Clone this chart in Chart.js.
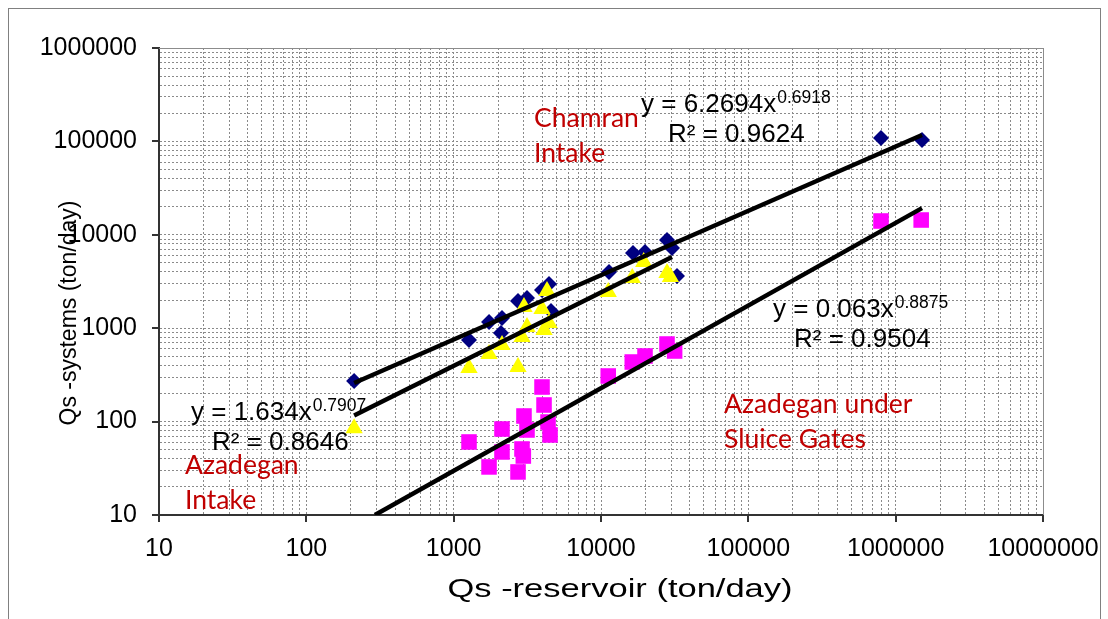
<!DOCTYPE html>
<html>
<head>
<meta charset="utf-8">
<script src="https://cdn.jsdelivr.net/npm/chart.js@4/dist/chart.umd.min.js"></script>
<style>
    html, body { margin: 0; padding: 0; background: #ffffff; }
    #wrap { width: 1108px; height: 619px; }
</style>
</head>
<body>
<div id="wrap"><canvas id="chart" width="1108" height="619"></canvas></div>
<script>
// ==========================================================
// DATA
// ==========================================================

// Chamran intake (navy diamonds)
const chamranX = [211, 1271, 1738, 2128, 2094, 2734, 3146, 3978, 4437, 4578,
    11334, 16495, 19893, 28054, 30340, 32810, 795500, 1509000];
const chamranY = [272, 747, 1165, 1285, 888, 1955, 2105, 2564, 2974, 1528,
    3998, 6386, 6545, 8797, 7223, 3622, 108700, 103500];

// Azadegan intake (yellow triangles)
const intakeX = [211, 1271, 1738, 2128, 2734, 2909, 3146, 3001, 3978, 4105,
    4437, 4300, 11200, 16300, 19500, 28054, 29600];
const intakeY = [85, 375, 529, 661, 384, 805, 1030, 1687, 1606, 956,
    1137, 2502, 2441, 3448, 5113, 3899, 3532];

// Azadegan under sluice gates (magenta squares)
const sluiceX = [1271, 1738, 2128, 2128, 2734, 2909, 2970, 3001, 3146, 3978,
    4105, 4370, 4510, 11200, 16300, 19893, 28054, 31600, 795500, 1490000];
const sluiceY = [60.5, 32.7, 83.3, 47.3, 28.9, 50.9, 42.8, 114.8, 81.3, 234.6,
    150.6, 99, 71.9, 307.7, 434.5, 504, 677, 570, 14050, 14400];

// power trend lines, end points as drawn
const chamranFitX = [211, 1509000];
const chamranFitY = [259, 117000];
const intakeFitX = [211, 30340];
const intakeFitY = [116, 5780];
const sluiceFitX = [292, 1509000];
const sluiceFitY = [10, 19300];

// tick labels
const xTickLabels = [10, 100, 1000, 10000, 100000, 1000000, 10000000];
const yTickLabels = [10, 100, 1000, 10000, 100000, 1000000];

// ==========================================================
// HELPERS
// ==========================================================

function toPoints(xs, ys) {
    return xs.map((x, i) => ({ x: x, y: ys[i] }));
}

// decade ticks plus 2..9 minor ticks, for the dashed grid
function logTicks(min, max) {
    const ticks = [];
    for (let p = min; p < max; p *= 10) {
        for (let m = 1; m < 10; m++) ticks.push(m * p);
    }
    ticks.push(max);
    return ticks.map(v => ({ value: v }));
}

const FONT = "'Liberation Sans', Arial, sans-serif";
const RED_FONT = "Lato, 'Open Sans', sans-serif";

function drawEquation(ctx, x, y, base, exp, r2x, r2) {
    ctx.fillStyle = "#000000";
    ctx.textAlign = "left";
    ctx.textBaseline = "alphabetic";
    ctx.font = "26px " + FONT;
    ctx.fillText(base, x, y);
    const w = ctx.measureText(base).width;
    ctx.font = "17.5px " + FONT;
    ctx.fillText(exp, x + w + 1, y - 9);
    ctx.font = "26px " + FONT;
    ctx.fillText(r2, r2x, y + 30);
}

function drawRed(ctx, lines, x, y) {
    ctx.fillStyle = "#c00000";
    ctx.textAlign = "left";
    ctx.textBaseline = "alphabetic";
    ctx.font = "26.5px " + RED_FONT;
    lines.forEach((t, i) => ctx.fillText(t, x, y + i * 35));
}

// ==========================================================
// DECORATION PLUGIN
// ==========================================================

const decorPlugin = {
    id: "decor",

    beforeDraw(chart) {
        const ctx = chart.ctx;
        ctx.save();
        ctx.fillStyle = "#ffffff";
        ctx.fillRect(0, 0, chart.width, chart.height);
        ctx.restore();
    },

    afterDraw(chart) {
        const { ctx, chartArea: a, scales } = chart;
        ctx.save();

        // outer frame
        ctx.strokeStyle = "#808080";
        ctx.lineWidth = 1;
        ctx.strokeRect(8.5, 8.5, 1092, 640);

        // plot area top / right edges
        ctx.strokeStyle = "#8c8c8c";
        ctx.beginPath();
        ctx.moveTo(a.left, a.top + 0.5);
        ctx.lineTo(a.right + 0.5, a.top + 0.5);
        ctx.lineTo(a.right + 0.5, a.bottom);
        ctx.stroke();

        // decade tick marks
        ctx.strokeStyle = "#333333";
        ctx.lineWidth = 2;
        ctx.beginPath();
        yTickLabels.forEach(v => {
            const py = Math.round(scales.y.getPixelForValue(v));
            ctx.moveTo(a.left - 7, py);
            ctx.lineTo(a.left, py);
        });
        xTickLabels.forEach(v => {
            const px = Math.round(scales.x.getPixelForValue(v));
            ctx.moveTo(px, a.bottom);
            ctx.lineTo(px, a.bottom + 7);
        });
        ctx.stroke();

        // axis titles
        ctx.fillStyle = "#000000";
        ctx.textAlign = "center";
        ctx.textBaseline = "middle";
        ctx.save();
        ctx.font = "25px " + FONT;
        ctx.translate(620, 590);
        ctx.scale(1.38, 1);
        ctx.fillText("Qs -reservoir (ton/day)", 0, 0);
        ctx.restore();
        ctx.save();
        ctx.font = "23px " + FONT;
        ctx.translate(70, 313);
        ctx.rotate(-Math.PI / 2);
        ctx.fillText("Qs -systems (ton/day)", 0, 0);
        ctx.restore();

        // trend equations
        drawEquation(ctx, 641, 112, "y = 6.2694x", "0.6918", 668, "R\u00b2 = 0.9624");
        drawEquation(ctx, 773, 317, "y = 0.063x", "0.8875", 794, "R\u00b2 = 0.9504");
        drawEquation(ctx, 191, 420, "y = 1.634x", "0.7907", 212, "R\u00b2 = 0.8646");

        // series labels
        drawRed(ctx, ["Chamran", "Intake"], 534, 127);
        drawRed(ctx, ["Azadegan", "Intake"], 185, 474);
        drawRed(ctx, ["Azadegan under", "Sluice Gates"], 724, 413);

        ctx.restore();
    }
};

// ==========================================================
// CHART
// ==========================================================

const gridOpts = {
    color: "#8a8a8a",
    lineWidth: 1,
    drawTicks: false
};

const borderOpts = {
    display: true,
    color: "#333333",
    width: 2,
    dash: [2, 2]
};

const trendStyle = {
    showLine: true,
    borderColor: "#000000",
    borderWidth: 4.5,
    pointRadius: 0,
    fill: false,
    order: 0
};

new Chart(document.getElementById("chart"), {

    type: "scatter",

    data: {
        datasets: [
            Object.assign({ label: "Chamran fit", data: toPoints(chamranFitX, chamranFitY) }, trendStyle),
            Object.assign({ label: "Intake fit", data: toPoints(intakeFitX, intakeFitY) }, trendStyle),
            Object.assign({ label: "Sluice fit", data: toPoints(sluiceFitX, sluiceFitY) }, trendStyle),
            {
                label: "Azadegan under Sluice Gates",
                data: toPoints(sluiceX, sluiceY),
                pointStyle: "rect",
                pointRadius: 11,
                backgroundColor: "#ff00ff",
                borderColor: "#ff00ff",
                borderWidth: 0,
                order: 1
            },
            {
                label: "Azadegan Intake",
                data: toPoints(intakeX, intakeY),
                pointStyle: "triangle",
                pointRadius: 10,
                backgroundColor: "#ffff00",
                borderColor: "#ffff00",
                borderWidth: 0,
                order: 2
            },
            {
                label: "Chamran Intake",
                data: toPoints(chamranX, chamranY),
                pointStyle: "rectRot",
                pointRadius: 8,
                backgroundColor: "#000080",
                borderColor: "#000080",
                borderWidth: 0,
                order: 3
            }
        ]
    },

    options: {
        responsive: false,
        animation: false,
        devicePixelRatio: 1,
        layout: {
            padding: { left: 0, top: 48, right: 65, bottom: 0 }
        },
        plugins: {
            legend: { display: false },
            tooltip: { enabled: false }
        },
        scales: {
            x: {
                type: "logarithmic",
                min: 10,
                max: 10000000,
                grid: gridOpts,
                border: borderOpts,
                afterBuildTicks: s => { s.ticks = logTicks(10, 10000000); },
                afterFit: s => {
                    s.height = 104;
                    // keep label overflow out of the layout; padding is fixed above
                    s.paddingLeft = 0;
                    s.paddingRight = 0;
                },
                ticks: {
                    autoSkip: false,
                    maxRotation: 0,
                    minRotation: 0,
                    padding: 19,
                    color: "#000000",
                    font: { family: FONT, size: 25 },
                    callback: v => xTickLabels.includes(v) ? String(v) : ""
                }
            },
            y: {
                type: "logarithmic",
                min: 10,
                max: 1000000,
                grid: gridOpts,
                border: borderOpts,
                afterBuildTicks: s => { s.ticks = logTicks(10, 1000000); },
                afterFit: s => {
                    s.width = 159;
                    s.paddingTop = 0;
                    s.paddingBottom = 0;
                },
                ticks: {
                    autoSkip: false,
                    padding: 22,
                    color: "#000000",
                    font: { family: FONT, size: 25 },
                    callback: v => yTickLabels.includes(v) ? String(v) : ""
                }
            }
        }
    },

    plugins: [decorPlugin]
});
</script>
</body>
</html>
